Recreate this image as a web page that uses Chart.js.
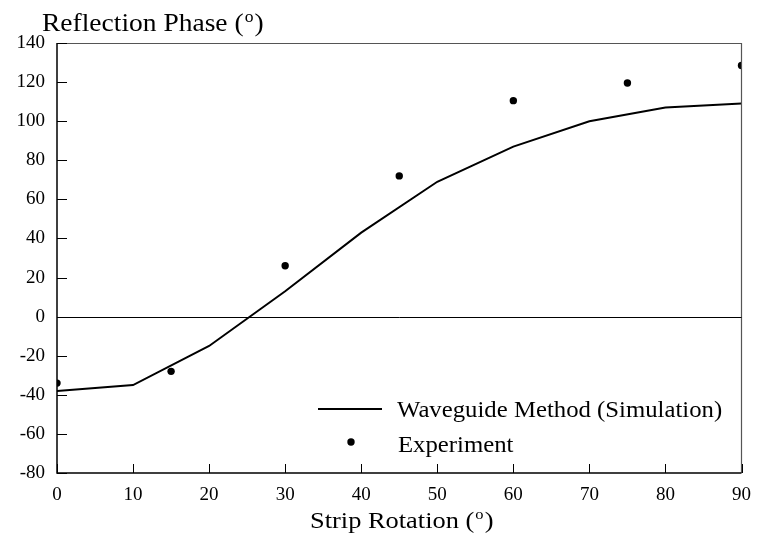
<!DOCTYPE html>
<html>
<head>
<meta charset="utf-8">
<script src="https://cdn.jsdelivr.net/npm/chart.js@4/dist/chart.umd.min.js"></script>
<style>
  html, body { margin: 0; padding: 0; background: #fff; }
  #wrap { width: 762px; height: 541px; }
</style>
</head>
<body>
<div id="wrap"><canvas id="chart"></canvas></div>
<script>
// Données
const rotation = [0, 10, 20, 30, 40, 50, 60, 70, 80, 90];
const simulation = [-38, -35, -15, 13, 43, 69, 87, 100, 107, 109];
const expRotation = [0, 15, 30, 45, 60, 75, 90];
const experiment = [-34, -28, 26, 72, 110.5, 119.5, 128.5];
const xTicks = [0, 10, 20, 30, 40, 50, 60, 70, 80, 90];
const yTicks = [-80, -60, -40, -20, 0, 20, 40, 60, 80, 100, 120, 140];

const FONT = "'Liberation Serif', 'Times New Roman', serif";
const STRETCH = 1.1;

// texte étiré, avec exposant "o" optionnel
function drawText(ctx, x, y, text, size, deg) {
    ctx.save();
    ctx.translate(x, y);
    ctx.scale(STRETCH, 1);
    ctx.font = size + 'px ' + FONT;
    if (!deg) {
        ctx.fillText(text, 0, 0);
    } else {
        ctx.fillText(text + '(', 0, 0);
        let w = ctx.measureText(text + '(').width;
        ctx.font = Math.round(size * 0.62) + 'px ' + FONT;
        ctx.fillText('o', w + 1, -size * 0.36);
        let w2 = ctx.measureText('o').width;
        ctx.font = size + 'px ' + FONT;
        ctx.fillText(')', w + w2 + 2, 0);
    }
    ctx.restore();
}

const decor = {
    id: 'decor',
    afterDraw(chart) {
        const ctx = chart.ctx;
        const a = chart.chartArea;
        const sx = chart.scales.x, sy = chart.scales.y;
        ctx.save();

        // cadre
        ctx.strokeStyle = '#555';
        ctx.lineWidth = 1.2;
        ctx.beginPath();
        ctx.moveTo(a.left, a.top + 0.5);
        ctx.lineTo(a.right, a.top + 0.5);
        ctx.lineTo(a.right, a.bottom);
        ctx.stroke();
        ctx.strokeStyle = '#000';
        ctx.lineWidth = 1.5;
        ctx.beginPath();
        ctx.moveTo(a.left, a.top);
        ctx.lineTo(a.left, a.bottom);
        ctx.lineTo(a.right, a.bottom);
        ctx.stroke();

        // graduations vers l'intérieur
        ctx.lineWidth = 1;
        ctx.beginPath();
        yTicks.forEach(v => {
            const p = Math.round(sy.getPixelForValue(v)) + 0.5;
            ctx.moveTo(a.left, p);
            ctx.lineTo(a.left + 10, p);
        });
        xTicks.forEach(v => {
            const p = Math.round(sx.getPixelForValue(v)) + 0.5;
            ctx.moveTo(p, a.bottom);
            ctx.lineTo(p, a.bottom - 9);
        });
        // ligne du zéro
        const z = Math.round(sy.getPixelForValue(0)) + 0.5;
        ctx.moveTo(a.left, z);
        ctx.lineTo(a.right, z);
        ctx.stroke();

        // titres
        ctx.fillStyle = '#000';
        ctx.textBaseline = 'alphabetic';
        ctx.textAlign = 'left';
        drawText(ctx, 42, 31, 'Reflection Phase ', 25, true);
        drawText(ctx, 310, 528, 'Strip Rotation ', 24, true);

        // légende
        const ds = chart.data.datasets;
        ctx.strokeStyle = '#000';
        ctx.lineWidth = 2;
        ctx.beginPath();
        ctx.moveTo(318, 409);
        ctx.lineTo(382, 409);
        ctx.stroke();
        drawText(ctx, 397, 417, ds[0].label, 22.5, false);
        ctx.beginPath();
        ctx.arc(351, 442, 3.7, 0, Math.PI * 2);
        ctx.fill();
        drawText(ctx, 398, 452, ds[1].label, 22.5, false);

        ctx.restore();
    }
};

new Chart(document.getElementById('chart'), {
    type: 'scatter',
    data: {
        datasets: [
            {
                label: 'Waveguide Method (Simulation)',
                data: rotation.map((x, i) => ({ x, y: simulation[i] })),
                showLine: true,
                borderColor: '#000',
                borderWidth: 2,
                pointRadius: 0,
                tension: 0
            },
            {
                label: 'Experiment',
                data: expRotation.map((x, i) => ({ x, y: experiment[i] })),
                showLine: false,
                backgroundColor: '#000',
                borderColor: '#000',
                pointRadius: 3.7,
                borderWidth: 0
            }
        ]
    },
    options: {
        responsive: true,
        maintainAspectRatio: false,
        animation: false,
        layout: { padding: { top: 43, right: 16, left: 0, bottom: 0 } },
        plugins: {
            legend: { display: false },
            tooltip: { enabled: false }
        },
        scales: {
            x: {
                type: 'linear',
                min: 0, max: 90,
                afterFit: s => { s.height = 68; },
                afterBuildTicks: s => { s.ticks = xTicks.map(v => ({ value: v })); },
                grid: { display: false, drawTicks: false },
                border: { display: false },
                ticks: { color: '#000', padding: 11, font: { family: FONT, size: 19 } }
            },
            y: {
                min: -80, max: 140,
                afterFit: s => { s.width = 57; },
                afterBuildTicks: s => { s.ticks = yTicks.map(v => ({ value: v })); },
                grid: { display: false, drawTicks: false },
                border: { display: false },
                ticks: { color: '#000', padding: 12, font: { family: FONT, size: 19 } }
            }
        }
    },
    plugins: [decor]
});
</script>
</body>
</html>
